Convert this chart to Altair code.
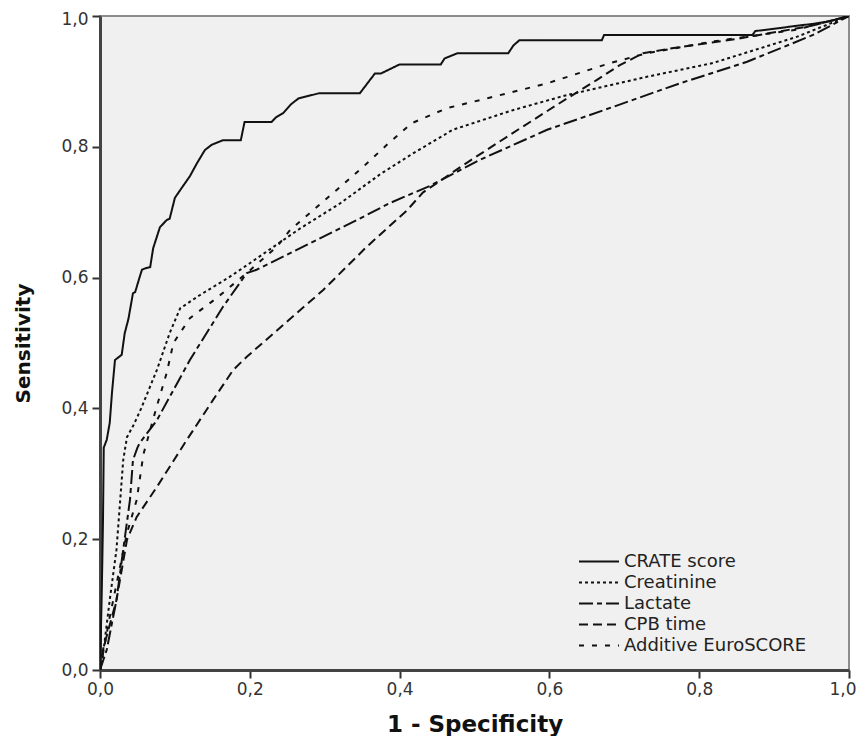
import altair as alt
import pandas as pd

series = ["CRATE score", "Creatinine", "Lactate", "CPB time", "Additive EuroSCORE"]

crate_x = [0.0, 0.002, 0.003, 0.004, 0.005, 0.009, 0.013, 0.016, 0.020, 0.029, 0.033, 0.038,
           0.044, 0.047, 0.053, 0.056, 0.060, 0.067, 0.071, 0.080, 0.089, 0.093, 0.100, 0.109,
           0.120, 0.129, 0.140, 0.149, 0.164, 0.188, 0.193, 0.229, 0.235, 0.245, 0.255, 0.265,
           0.293, 0.347, 0.367, 0.375, 0.400, 0.455, 0.460, 0.477, 0.545, 0.552, 0.560, 0.670,
           0.673, 0.871, 0.875, 0.897, 0.930, 0.952, 0.974, 1.0]
crate_y = [0.0, 0.100, 0.160, 0.230, 0.340, 0.352, 0.378, 0.424, 0.474, 0.482, 0.515, 0.537,
           0.576, 0.578, 0.601, 0.612, 0.614, 0.616, 0.645, 0.677, 0.688, 0.690, 0.722, 0.737,
           0.755, 0.774, 0.795, 0.803, 0.810, 0.810, 0.838, 0.838, 0.845, 0.852, 0.865, 0.874,
           0.882, 0.882, 0.912, 0.912, 0.926, 0.926, 0.935, 0.943, 0.943, 0.955, 0.963, 0.963,
           0.971, 0.971, 0.977, 0.980, 0.985, 0.988, 0.992, 1.0]

creat_x = [0.0, 0.002, 0.013, 0.022, 0.027, 0.031, 0.036, 0.045, 0.055, 0.076, 0.093, 0.107,
           0.133, 0.173, 0.200, 0.267, 0.320, 0.374, 0.418, 0.471, 0.551, 0.623, 0.730, 0.818,
           0.930, 1.0]
creat_y = [0.0, 0.005, 0.107, 0.184, 0.260, 0.321, 0.356, 0.375, 0.400, 0.459, 0.515, 0.553,
           0.573, 0.601, 0.622, 0.675, 0.713, 0.758, 0.790, 0.826, 0.856, 0.879, 0.907, 0.928,
           0.968, 1.0]

lact_x = [0.0, 0.009, 0.022, 0.031, 0.040, 0.044, 0.050, 0.053, 0.076, 0.120, 0.164, 0.196,
          0.209, 0.276, 0.343, 0.387, 0.440, 0.507, 0.597, 0.685, 0.774, 0.864, 0.952, 1.0]
lact_y = [0.0, 0.031, 0.107, 0.184, 0.260, 0.321, 0.340, 0.347, 0.382, 0.474, 0.555, 0.607,
          0.612, 0.650, 0.688, 0.714, 0.740, 0.780, 0.826, 0.861, 0.897, 0.930, 0.971, 1.0]

cpb_x = [0.0, 0.004, 0.022, 0.036, 0.049, 0.076, 0.116, 0.151, 0.178, 0.196, 0.254, 0.298,
         0.356, 0.410, 0.431, 0.485, 0.551, 0.614, 0.663, 0.694, 0.725, 0.760, 0.850, 0.950, 1.0]
cpb_y = [0.0, 0.031, 0.107, 0.199, 0.234, 0.280, 0.352, 0.413, 0.459, 0.479, 0.537, 0.581,
         0.647, 0.703, 0.730, 0.772, 0.821, 0.867, 0.902, 0.925, 0.943, 0.950, 0.965, 0.985, 1.0]

euro_x = [0.0, 0.013, 0.036, 0.049, 0.058, 0.075, 0.089, 0.098, 0.120, 0.156, 0.196, 0.236,
          0.254, 0.316, 0.351, 0.383, 0.416, 0.463, 0.520, 0.597, 0.681, 0.730, 0.818, 0.930, 1.0]
euro_y = [0.0, 0.081, 0.209, 0.260, 0.330, 0.400, 0.454, 0.500, 0.538, 0.569, 0.607, 0.647,
          0.673, 0.734, 0.769, 0.803, 0.836, 0.859, 0.875, 0.897, 0.928, 0.943, 0.961, 0.979, 1.0]

x_ticks = [0.0, 0.2, 0.4, 0.6, 0.8, 1.0]
y_ticks = [0.0, 0.2, 0.4, 0.6, 0.8, 1.0]

rows = []
for name, xs, ys in zip(series,
                        [crate_x, creat_x, lact_x, cpb_x, euro_x],
                        [crate_y, creat_y, lact_y, cpb_y, euro_y]):
    for i, (xv, yv) in enumerate(zip(xs, ys)):
        rows.append({"series": name, "fpr": xv, "tpr": yv, "i": i})
df = pd.DataFrame(rows)

label_expr = "replace(format(datum.value, '.1f'), '.', ',')"

dashes = [[1, 0], [3, 3], [14, 4, 5, 4], [9, 5], [5, 8]]

chart = alt.Chart(df).mark_line(strokeWidth=2, color="#111", clip=True).encode(
    x=alt.X("fpr:Q",
            scale=alt.Scale(domain=[0, 1], nice=False, zero=False),
            axis=alt.Axis(title="1 - Specificity", values=x_ticks, labelExpr=label_expr,
                          grid=False, labelFlush=False, domainWidth=3, domainColor="#444",
                          tickColor="#333", tickWidth=2, tickSize=8,
                          labelFont="DejaVu Sans", labelFontSize=17, labelColor="#333",
                          labelPadding=3,
                          labelAlign=alt.condition("datum.value == 1", alt.value("right"),
                                                   alt.value("center")),
                          labelOffset=alt.condition("datum.value == 1", alt.value(7),
                                                    alt.value(0)),
                          titleFont="DejaVu Sans", titleFontWeight="bold", titleFontSize=23,
                          titleColor="#111", titleY=61, titleBaseline="alphabetic")),
    y=alt.Y("tpr:Q",
            scale=alt.Scale(domain=[0, 1], nice=False, zero=False),
            axis=alt.Axis(title="Sensitivity", values=y_ticks, labelExpr=label_expr,
                          grid=False, labelFlush=False, domainWidth=3, domainColor="#444",
                          tickColor="#333", tickWidth=2, tickSize=8,
                          labelFont="DejaVu Sans", labelFontSize=17, labelColor="#333",
                          labelPadding=4,
                          labelOffset=alt.condition("datum.value == 1", alt.value(3),
                                                    alt.value(0)),
                          titleFont="DejaVu Sans", titleFontWeight="bold", titleFontSize=20,
                          titleColor="#111", titleX=-67, titleY=327, titleAngle=270,
                          titleBaseline="bottom", titleAlign="center")),
    strokeDash=alt.StrokeDash("series:N",
                              scale=alt.Scale(domain=series, range=dashes),
                              legend=alt.Legend(title=None, orient="none", legendX=478,
                                                legendY=535, symbolType="stroke",
                                                symbolSize=1600, symbolStrokeWidth=2,
                                                symbolStrokeColor="#111",
                                                labelFont="DejaVu Sans", labelFontSize=18,
                                                labelColor="#222", labelOffset=4,
                                                labelLimit=400,
                                                clipHeight=21, rowPadding=0, padding=0)),
    order="i:Q",
).properties(
    width=749, height=654,
    padding={"left": 92, "top": 8, "right": 8, "bottom": 66},
    autosize="none",
).configure_view(fill="#f0f0f0", stroke="#8c8c8c", strokeWidth=2)

chart.save("out.html", embed_options={"renderer": "svg", "actions": False})
